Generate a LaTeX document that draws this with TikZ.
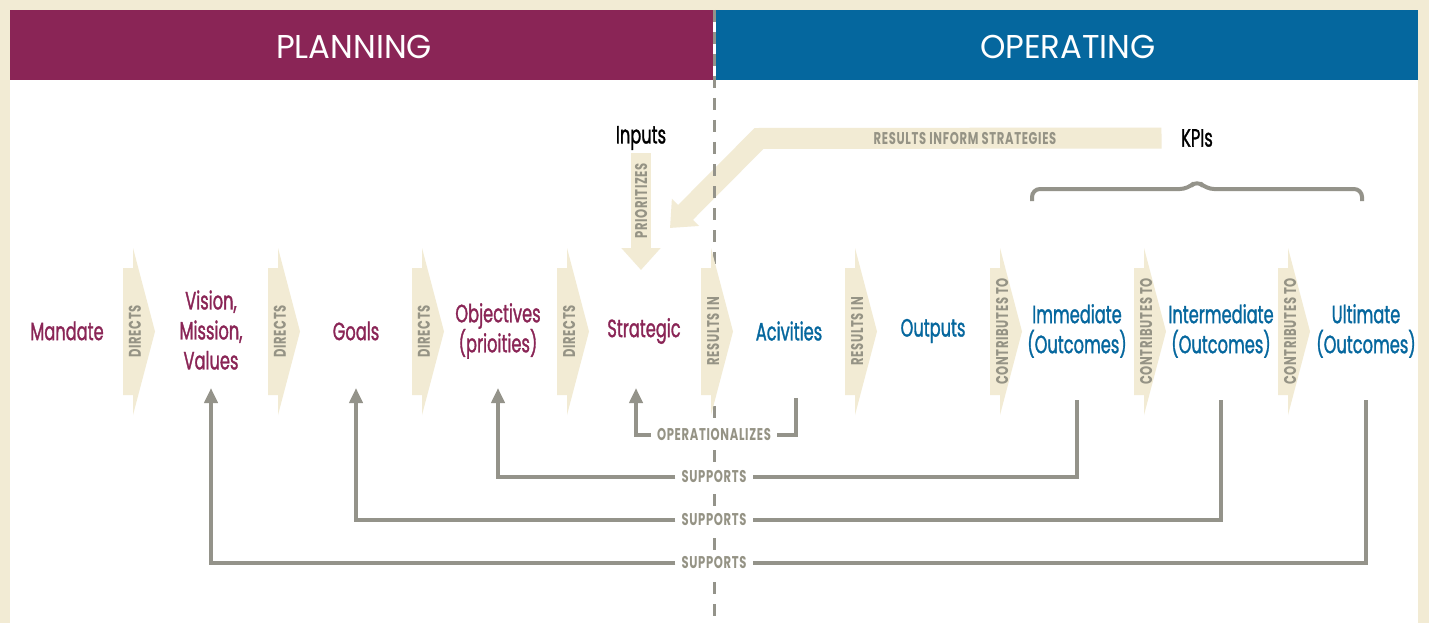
\documentclass[tikz,border=0pt]{standalone}
\usepackage{fontspec}
\setmainfont{Poppins}
\newfontfamily\narrowfont[FakeStretch=0.65,FakeBold=1.2]{Poppins}
\newfontfamily\tagfont[FakeStretch=0.68,LetterSpace=4]{Poppins}
\newfontfamily\headfont[FakeStretch=0.98]{Poppins}
\usepackage{tikz}
\usetikzlibrary{arrows.meta}
\definecolor{cream}{HTML}{F2EBD4}
\definecolor{planning}{HTML}{8A2556}
\definecolor{operating}{HTML}{05679E}
\definecolor{taupe}{HTML}{94938A}
\definecolor{tagtext}{HTML}{959385}
\tikzset{
         plan/.style={font={\narrowfont\fontsize{25}{30}\selectfont},text=planning,align=center,inner sep=0},
         oper/.style={plan,text=operating},
         ink/.style={plan,text=black},
         head/.style={font={\headfont\fontsize{33}{33}\selectfont},text=white,inner sep=0},
         tag/.style={font={\tagfont\bfseries\fontsize{17}{17}\selectfont},text=tagtext,inner sep=0},
         gap/.style={tag,fill=white,inner xsep=6pt,inner ysep=3pt},
         support/.style={draw=taupe,line width=4.5pt},
         band/.style={draw=cream,line width=21pt,line join=miter}
        }

\begin{document}
\begin{tikzpicture}[x=1pt,y=-1pt]
\useasboundingbox(0,0)rectangle(1429,623);
\fill[cream](0,0)rectangle(1429,623);
\fill[white](10,10)rectangle(1418,623);
%header
\fill[planning](10,10)rectangle(713,80);
\fill[operating](716,10)rectangle(1418,80);
\node[head](planhead)at(354,47){PLANNING};
\node[head](ophead)at(1068,47){OPERATING};
%feedback
\node[ink](inputs)at(641,138){Inputs};
\node[ink](kpis)at(1197,138){KPIs};
\coordinate(bend)at(759,138.5);
\coordinate(inform)at(670,228);
\coordinate(prio)at(641,270);
\draw[band,shorten <=19.5pt,-{Triangle[width=37pt,length=22pt]}](kpis.west)--(bend)--(inform);
\node[tag](t-inform)at(965,138.5){RESULTS INFORM STRATEGIES};
\draw[band,line width=20pt,shorten <=3pt,-{Triangle[width=38pt,length=22pt]}](inputs.south)--(prio);
\node[tag,rotate=90](t-prio)at(641,201){PRIORITIZES};
%divider
\draw[taupe,line width=2.5pt,dash pattern=on 12pt off 10pt](714.5,10)--(714.5,623);
%chevrons
\foreach \x/\t [count=\i] in {123/DIRECTS,268/DIRECTS,412/DIRECTS,557/DIRECTS,701/RESULTS IN,845/RESULTS IN,990/CONTRIBUTES TO,1134/CONTRIBUTES TO,1278/CONTRIBUTES TO}{
\fill[cream,shift={(\x,331.5)}](0,-63.5)--(10,-63.5)--(10,-83.5)--(32,0)--(10,83.5)--(10,63.5)--(0,63.5)--cycle;
\node[tag,rotate=90](chev\i)at(\x+12,331.5){\t};
}
%stages
\node[plan](mandate)at(67,331){Mandate};
\node[plan](vision)at(211,330){Vision,\\Mission,\\Values};
\node[plan](goals)at(356,331){Goals};
\node[plan](objectives)at(498,331){Objectives\\(prioities)};
\node[plan](strategic)at(644,331){Strategic};
\node[oper](activities)at(789,331){Acivities};
\node[oper](outputs)at(933,331){Outputs};
\node[oper](immediate)at(1077,331){Immediate\\(Outcomes)};
\node[oper](intermediate)at(1221,331){Intermediate\\(Outcomes)};
\node[oper](ultimate)at(1366,331){Ultimate\\(Outcomes)};
%KPI brace
\draw[taupe,line width=4pt,rounded corners=8](1032,201)--(1032,189)--(1188,189)--(1197,180)--(1206,189)--(1362,189)--(1362,201);
%operationalizes
\coordinate(opfoot)at(796,398);
\coordinate(optip)at(636,388);
\node[gap](oper)at(714,435){OPERATIONALIZES};
\draw[support](opfoot)|-(oper);
\draw[support,-{Triangle[width=13pt,length=15pt]}](oper)-|(optip);
%supports
\coordinate(feet)at(0,400);
\coordinate(tips)at(0,388);
\node[gap](sup1)at(714,477){SUPPORTS};
\node[gap](sup2)at(714,520){SUPPORTS};
\node[gap](sup3)at(714,563){SUPPORTS};
\draw[support](immediate|-feet)|-(sup1);
\draw[support,-{Triangle[width=13pt,length=15pt]}](sup1)-|(objectives|-tips);
\draw[support](intermediate|-feet)|-(sup2);
\draw[support,-{Triangle[width=13pt,length=15pt]}](sup2)-|(goals|-tips);
\draw[support](ultimate|-feet)|-(sup3);
\draw[support,-{Triangle[width=13pt,length=15pt]}](sup3)-|(vision|-tips);
\end{tikzpicture}
\end{document}
